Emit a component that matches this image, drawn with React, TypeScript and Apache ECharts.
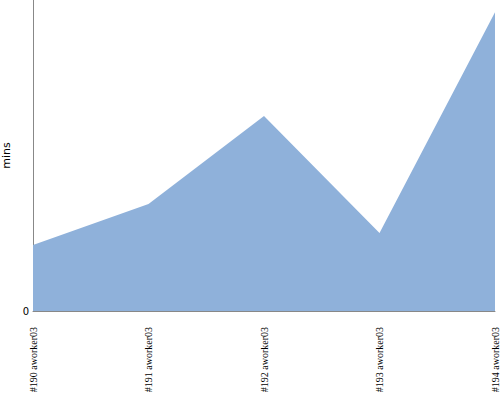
import React, { useEffect, useRef } from "react";
import * as echarts from "echarts";

const categories = ["#190 aworker03", "#191 aworker03", "#192 aworker03", "#193 aworker03", "#194 aworker03"];
const minutes = [2.12, 3.44, 6.27, 2.51, 9.61];
const yMax = 10;

export default function App() {
  const ref = useRef<HTMLDivElement>(null);
  useEffect(() => {
    const chart = echarts.init(ref.current!, null, { renderer: "svg" });
    chart.setOption({
      animation: false,
      grid: { left: 33, right: 5, top: 0, bottom: 89, containLabel: false, outerBoundsMode: "none" },
      xAxis: {
        type: "category",
        data: categories,
        boundaryGap: false,
        axisLine: { lineStyle: { color: "#888", width: 1 } },
        axisTick: { show: false },
        axisLabel: {
          rotate: 90,
          margin: 16,
          fontSize: 10,
          color: "#000",
          fontFamily: "Liberation Sans Narrow",
          interval: 0,
        },
        splitLine: { show: false },
      },
      yAxis: {
        type: "value",
        min: 0,
        max: yMax,
        interval: yMax,
        name: "mins",
        nameLocation: "middle",
        nameGap: 13,
        nameTextStyle: { fontSize: 11, color: "#000", fontFamily: "DejaVu Sans" },
        axisLine: { show: true, lineStyle: { color: "#888", width: 1 } },
        axisTick: { show: false },
        splitLine: { show: false },
        axisLabel: {
          fontSize: 10,
          color: "#000",
          margin: 4,
          fontFamily: "DejaVu Sans",
          formatter: (v: number) => (v === 0 ? "0" : ""),
        },
      },
      series: [
        {
          type: "line",
          data: minutes,
          symbol: "none",
          lineStyle: { width: 0 },
          areaStyle: { color: "#8fb1da", opacity: 1 },
        },
      ],
    });
    return () => chart.dispose();
  }, []);
  return <div ref={ref} style={{ width: 500, height: 400, position: "absolute", left: 0, top: 0 }} />;
}
